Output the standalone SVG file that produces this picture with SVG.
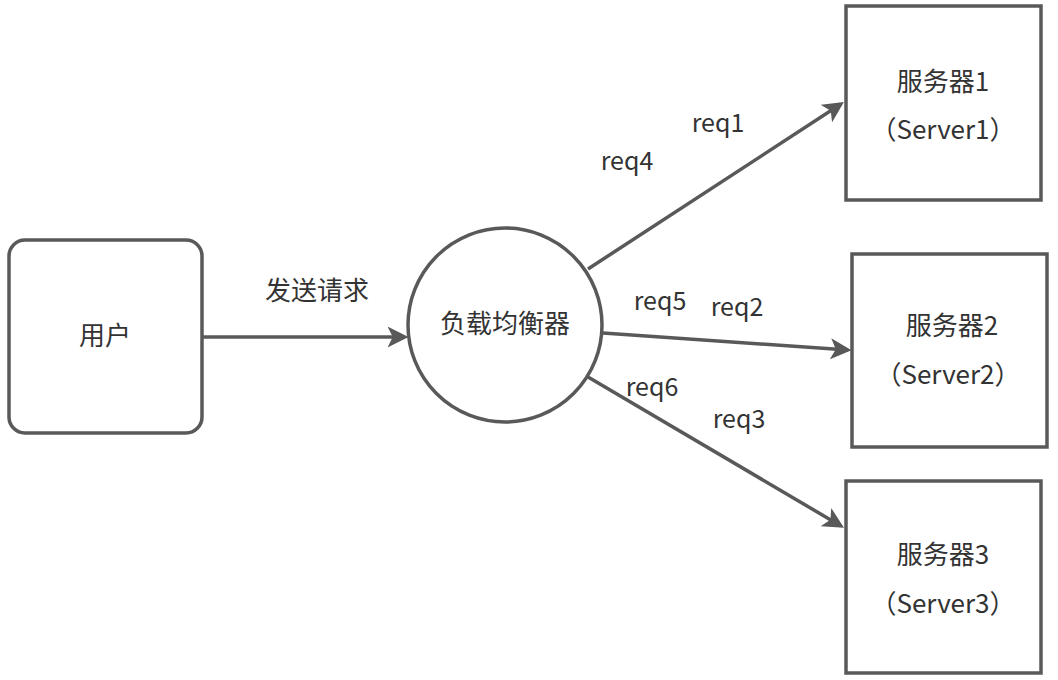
<svg xmlns="http://www.w3.org/2000/svg" width="1058" height="680" viewBox="0 0 1058 680">
<style>
.box{fill:#fff;stroke:#595959;stroke-width:3.5}
.t{font-family:"Noto Sans CJK SC","Noto Sans",sans-serif;font-size:26px;fill:#333;text-anchor:middle}
.r{font-family:"Noto Sans CJK SC","Noto Sans",sans-serif;font-size:25px;fill:#333;text-anchor:middle}
.c{stroke:#595959;stroke-width:3.5;fill:none;marker-end:url(#ah)}
</style>
<defs>
<marker id="ah" markerWidth="6" markerHeight="6" refX="5" refY="3" orient="auto" markerUnits="strokeWidth">
<path d="M0,0 L6,3 L0,6 L1.5,3 Z" fill="#595959"/>
</marker>
</defs>
<rect width="1058" height="680" fill="#fff"/>
<g id="connectors">
<line class="c" x1="203" y1="337" x2="405" y2="337"/>
<line class="c" x1="588" y1="269" x2="841" y2="104"/>
<line class="c" x1="603" y1="333" x2="848" y2="350"/>
<line class="c" x1="588" y1="377" x2="841" y2="526"/>
</g>
<g id="user">
<rect class="box" x="9" y="240" width="193" height="193" rx="16"/>
<text class="t" x="105" y="345">用户</text>
</g>
<g id="lb">
<circle class="box" cx="505" cy="325" r="97"/>
<text class="t" x="505" y="333">负载均衡器</text>
</g>
<g id="server1">
<rect class="box" x="846" y="6" width="195" height="194"/>
<text class="t" x="943" y="91">服务器1</text>
<text class="t" x="943" y="139">（Server1）</text>
</g>
<g id="server2">
<rect class="box" x="852" y="254" width="195" height="193"/>
<text class="t" x="952" y="335">服务器2</text>
<text class="t" x="948" y="384">（Server2）</text>
</g>
<g id="server3">
<rect class="box" x="846" y="481" width="195" height="192"/>
<text class="t" x="943" y="564">服务器3</text>
<text class="t" x="943" y="613">（Server3）</text>
</g>
<g id="labels">
<text class="t" x="317" y="300">发送请求</text>
<text class="r" x="718" y="132">req1</text>
<text class="r" x="627" y="170">req4</text>
<text class="r" x="660" y="310">req5</text>
<text class="r" x="737" y="316">req2</text>
<text class="r" x="652" y="396">req6</text>
<text class="r" x="739" y="428">req3</text>
</g>
</svg>
